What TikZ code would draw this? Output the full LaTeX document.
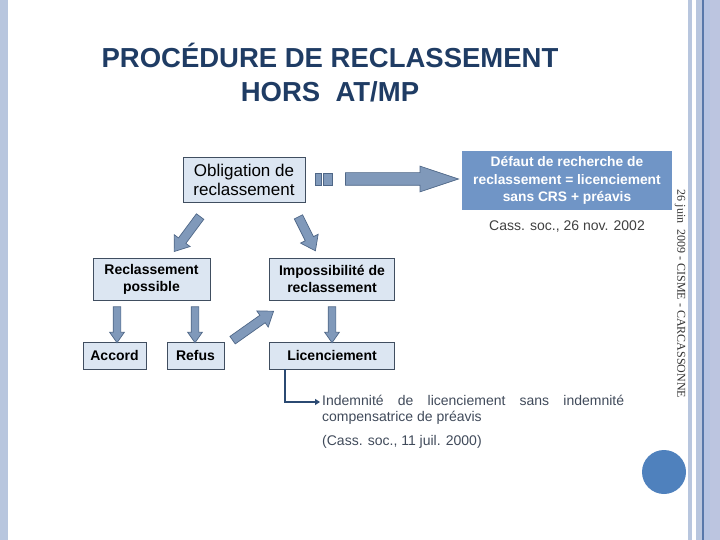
\documentclass[tikz,border=0pt]{standalone}
\usepackage{fontspec}
\setmainfont{Liberation Sans}
\newfontfamily\datefont{Liberation Serif}
\usepackage{xcolor}
\usepackage{tikz}
\usetikzlibrary{shapes.arrows, arrows.meta, positioning, calc}
\definecolor{titlecolor}{HTML}{1F3C64}
\definecolor{boxfill}{HTML}{DCE6F2}
\definecolor{boxline}{HTML}{404E60}
\definecolor{defautfill}{HTML}{7095C6}
\definecolor{arrowfill}{HTML}{8099BA}
\definecolor{arrowline}{HTML}{4F6787}
\definecolor{notecolor}{HTML}{404A5A}
\definecolor{elbowcolor}{HTML}{2B4A72}
\definecolor{dotcolor}{HTML}{4F81BD}
\definecolor{stripcolor}{HTML}{B8C6DE}
\definecolor{stripdark}{HTML}{5577AA}
\definecolor{stripblue}{HTML}{B4C3E2}
\definecolor{stripedge}{HTML}{BCC5E0}

% block arrow laid from one named point to another
\newcommand{\fatarrow}[3][]{%
  \path let \p1=($(#3)-(#2)$), \n1={atan2(\y1,\x1)}, \n2={veclen(\x1,\y1)} in
    node[fatarrow, #1, minimum height=\n2, rotate=\n1] at ($(#2)!0.5!(#3)$) {};}

\begin{document}
\begin{tikzpicture}[x=1pt, y=-1pt,
    box/.style={rectangle, draw=boxline, fill=boxfill, line width=0.8pt, inner sep=0pt, align=center, font=\bfseries\fontsize{14}{17}\selectfont},
    fatarrow/.style={single arrow, draw=arrowline, fill=arrowfill, line width=0.7pt, inner xsep=0pt, inner ysep=3.5pt, minimum width=0pt, single arrow head extend=3.5pt, single arrow tip angle=70},
    note/.style={inner sep=0pt, text=notecolor, font=\fontsize{14}{16}\selectfont},
    elbow/.style={draw=elbowcolor, line width=2.2pt, -{Triangle[length=5pt,width=6pt]}}
]
\useasboundingbox (0,0) rectangle (720,540);

% Slide frame
\fill[stripcolor] (0,0) rectangle (8,540);
\fill[stripcolor] (688,0) rectangle (692,540);
\fill[stripcolor] (696,0) rectangle (702,540);
\fill[stripdark] (702,0) rectangle (703.5,540);
\fill[stripblue] (703.5,0) rectangle (710,540);
\fill[stripedge] (710,0) rectangle (720,540);

% Title
\node[align=center, text=titlecolor, font=\bfseries\fontsize{27.5}{34}\selectfont] (title) at (330,73) {PROCÉDURE DE RECLASSEMENT\\HORS~~AT/MP};

% Top row
\node[box, font=\fontsize{17}{19}\selectfont, minimum width=122pt, minimum height=45pt] (oblig) at (244,180) {Obligation de\\reclassement};
\node[box, draw=none, fill=defautfill, text=white, font=\bfseries\fontsize{13.8}{17.5}\selectfont, minimum width=210pt, minimum height=59pt] (defaut) at (567,180.5) {Défaut de recherche de\\reclassement = licenciement\\sans CRS + préavis};
\node[inner sep=0pt, text=black!75, font=\fontsize{14}{16}\selectfont] (cass1) at (567,227) {Cass. soc., 26 nov. 2002};

% Middle row
\node[box, minimum width=117pt, minimum height=42pt] (possible) at (151.5,279) {Reclassement\\possible};
\node[box, minimum width=125pt, minimum height=42pt] (impossible) at (332,279) {Impossibilité de\\reclassement};

% Bottom row
\node[box, minimum width=63pt, minimum height=27pt] (accord) at (114.5,355.5) {Accord};
\node[box, minimum width=57pt, minimum height=27pt] (refus) at (195.5,355.5) {Refus};
\node[box, minimum width=125pt, minimum height=27pt] (licen) at (332,355.5) {Licenciement};

% Consequence
\node[note, anchor=north west, text width=302pt, align=justify] (indem) at (322,395) {Indemnité de licenciement sans indemnité\linebreak compensatrice de préavis};
\node[note, below=11pt of indem.south west, anchor=north west] (cass2) {(Cass. soc., 11 juil. 2000)};
\draw[elbow] ([xshift=16pt]licen.south west) |- ([xshift=-2pt,yshift=-7pt]indem.north west);

% Block arrows
\coordinate (hA) at (336,179);  \coordinate (hB) at (449,179);
\coordinate (lA) at (202,214);  \coordinate (lB) at (176,249);
\coordinate (rA) at (297,214);  \coordinate (rB) at (314,248);
\coordinate (aA) at (117,304);  \coordinate (aB) at (117,340);
\coordinate (fA) at (195,304);  \coordinate (fB) at (195,340);
\coordinate (iA) at (332,304);  \coordinate (iB) at (332,340);
\coordinate (gA) at (230,342);  \coordinate (gB) at (271,313);

\fill[arrowfill, draw=arrowline, line width=0.7pt] (315,173) rectangle (321,185);
\fill[arrowfill, draw=arrowline, line width=0.7pt] (323,173) rectangle (332,185);
\fatarrow[inner ysep=6pt, single arrow head extend=6.5pt, single arrow tip angle=37]{hA}{hB}
\fatarrow[inner ysep=4.25pt, single arrow head extend=5.25pt, single arrow tip angle=72]{lA}{lB}
\fatarrow[inner ysep=4.25pt, single arrow head extend=5.25pt, single arrow tip angle=72]{rA}{rB}
\fatarrow{aA}{aB}
\fatarrow{fA}{fB}
\fatarrow{iA}{iB}
\fatarrow[inner ysep=4.25pt, single arrow head extend=5.25pt, single arrow tip angle=72]{gA}{gB}

% Footer
\node[rotate=-90, inner sep=0pt, text=black!80, font=\datefont\fontsize{12}{14}\selectfont] (footer) at (680,294) {26 juin~~2009 - CISME - CARCASSONNE};
\node[circle, fill=dotcolor, minimum size=44pt, inner sep=0pt] (dot) at (664,472) {};

\end{tikzpicture}
\end{document}
